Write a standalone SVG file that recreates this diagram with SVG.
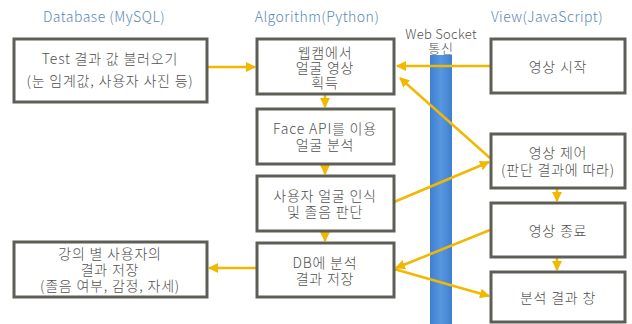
<svg xmlns="http://www.w3.org/2000/svg" width="632" height="324" viewBox="0 0 632 324">
<style>
.box{fill:#fff;stroke:#5e5e58;stroke-width:3}
.t{font-family:"Noto Sans CJK KR","Noto Sans",sans-serif;font-size:14px;letter-spacing:0.8px;fill:#505050;text-anchor:middle;dominant-baseline:central;font-weight:300}
.h{font-family:"Noto Sans CJK KR","Noto Sans",sans-serif;font-size:14px;letter-spacing:0.5px;fill:#5a8ab5;text-anchor:middle;font-weight:300}
.c{stroke:#f2b800;stroke-width:2.5;fill:none;marker-end:url(#ah)}
</style>
<defs>
<marker id="ah" viewBox="0 0 10 10" refX="9" refY="5" markerWidth="4" markerHeight="4" orient="auto" markerUnits="strokeWidth">
<path d="M0,0 L10,5 L0,10 z" fill="#f2b800"/>
</marker>
<linearGradient id="bar" x1="0" x2="1" y1="0" y2="0">
<stop offset="0" stop-color="#3f7fd0"/>
<stop offset="0.5" stop-color="#5797e0"/>
<stop offset="1" stop-color="#3f7fd0"/>
</linearGradient>
</defs>
<rect width="632" height="324" fill="#fff"/>
<g id="headers">
<text class="h" x="104" y="22">Database (MySQL)</text>
<text class="h" x="317" y="22">Algorithm(Python)</text>
<text class="h" x="547" y="22">View(JavaScript)</text>
</g>
<g id="websocket">
<rect x="430" y="55" width="22" height="269" fill="url(#bar)"/>
<text class="t" x="441" y="33" style="font-size:13px;letter-spacing:0.3px">Web Socket</text>
<text class="t" x="441" y="47" style="font-size:13px">통신</text>
</g>
<g id="connectors">
<line class="c" x1="208" y1="67" x2="255" y2="67"/>
<line class="c" x1="490" y1="66" x2="397" y2="66"/>
<line class="c" x1="490" y1="158" x2="400" y2="78"/>
<line class="c" x1="325" y1="94" x2="325" y2="107"/>
<line class="c" x1="325" y1="164" x2="325" y2="174"/>
<line class="c" x1="325" y1="231" x2="325" y2="241"/>
<line class="c" x1="394" y1="202" x2="489" y2="162"/>
<line class="c" x1="490" y1="230" x2="396" y2="268"/>
<line class="c" x1="394" y1="269" x2="489" y2="296"/>
<line class="c" x1="557" y1="189" x2="557" y2="201"/>
<line class="c" x1="557" y1="258" x2="557" y2="270"/>
<line class="c" x1="256" y1="268" x2="209" y2="268"/>
</g>
<g id="nodeA">
<rect class="box" x="14" y="39" width="193" height="63"/>
<text class="t" x="110" y="58">Test 결과 값 불러오기</text>
<text class="t" x="110" y="80">(눈 임계값, 사용자 사진 등)</text>
</g>
<g id="nodeB">
<rect class="box" x="257" y="39" width="137" height="55"/>
<text class="t" x="325" y="52">웹캠에서</text>
<text class="t" x="325" y="67">얼굴 영상</text>
<text class="t" x="325" y="82">획득</text>
</g>
<g id="nodeC">
<rect class="box" x="257" y="109" width="137" height="55"/>
<text class="t" x="325" y="128">Face API를 이용</text>
<text class="t" x="325" y="144">얼굴 분석</text>
</g>
<g id="nodeD">
<rect class="box" x="257" y="176" width="137" height="55"/>
<text class="t" x="325" y="195">사용자 얼굴 인식</text>
<text class="t" x="325" y="211">및 졸음 판단</text>
</g>
<g id="nodeE">
<rect class="box" x="257" y="243" width="137" height="54"/>
<text class="t" x="325" y="262">DB에 분석</text>
<text class="t" x="325" y="278">결과 저장</text>
</g>
<g id="nodeF">
<rect class="box" x="14" y="242" width="193" height="55"/>
<text class="t" x="110" y="253">강의 별 사용자의</text>
<text class="t" x="110" y="269">결과 저장</text>
<text class="t" x="110" y="285">(졸음 여부, 감정, 자세)</text>
</g>
<g id="nodeV1">
<rect class="box" x="491" y="39" width="134" height="54"/>
<text class="t" x="558" y="66">영상 시작</text>
</g>
<g id="nodeV2">
<rect class="box" x="491" y="134" width="134" height="54"/>
<text class="t" x="558" y="152">영상 제어</text>
<text class="t" x="558" y="169">(판단 결과에 따라)</text>
</g>
<g id="nodeV3">
<rect class="box" x="491" y="203" width="134" height="54"/>
<text class="t" x="558" y="230">영상 종료</text>
</g>
<g id="nodeV4">
<rect class="box" x="491" y="272" width="134" height="50"/>
<text class="t" x="558" y="297">분석 결과 창</text>
</g>
</svg>
